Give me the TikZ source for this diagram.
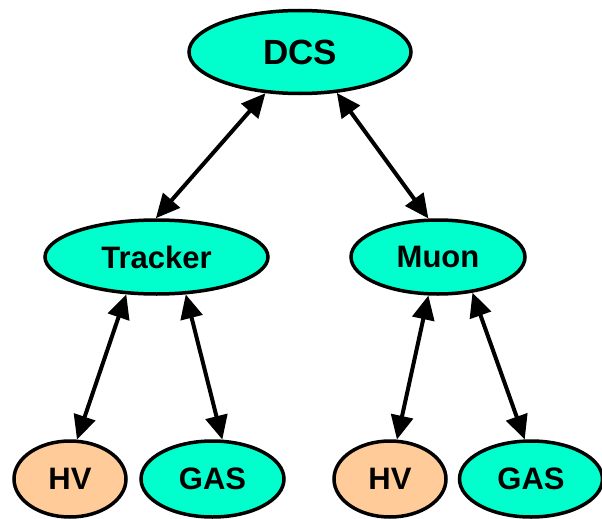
\documentclass[tikz,border=0pt]{standalone}
\usepackage{fontspec}
\setmainfont{Liberation Sans}
\usetikzlibrary{shapes.geometric,arrows.meta}
\definecolor{aqua}{HTML}{00FFCC}
\definecolor{peach}{HTML}{FFCC99}
\begin{document}
\begin{tikzpicture}[x=1pt,y=-1pt,
  unit/.style={ellipse, draw=black, line width=3.5pt, inner sep=0pt,
    font=\fontsize{31}{31}\selectfont\bfseries},
  sub/.style={unit, fill=aqua},
  hv/.style={unit, fill=peach},
  link/.style={line width=4pt, {Triangle[length=24pt,width=22pt]}-{Triangle[length=24pt,width=22pt]}}]
\useasboundingbox (0,0) rectangle (602,519);

% top level
\node[sub, minimum width=222pt, minimum height=83pt,
      font=\fontsize{35}{35}\selectfont\bfseries] (dcs) at (300,52) {DCS};

% subsystems
\node[sub, minimum width=223pt, minimum height=74pt] (trk) at (156.5,257) {Tracker};
\node[sub, minimum width=174pt, minimum height=74pt] (muon) at (438,257) {Muon};

% services
\node[hv,  minimum width=112pt, minimum height=76pt] (hv1)  at (70,479)  {HV};
\node[sub, minimum width=143pt, minimum height=76pt] (gas1) at (212.5,479) {GAS};
\node[hv,  minimum width=112pt, minimum height=76pt] (hv2)  at (390,479) {HV};
\node[sub, minimum width=143pt, minimum height=76pt] (gas2) at (531,479) {GAS};

% links
\draw[link] (dcs.230) -- (trk.91);
\draw[link] (dcs.-48) -- (muon.104);
\draw[link] (trk.231) -- (hv1.80);
\draw[link] (trk.-52) -- (gas1.76);
\draw[link] (muon.256) -- (hv2.80);
\draw[link] (muon.-46) -- (gas2.99);
\end{tikzpicture}
\end{document}
